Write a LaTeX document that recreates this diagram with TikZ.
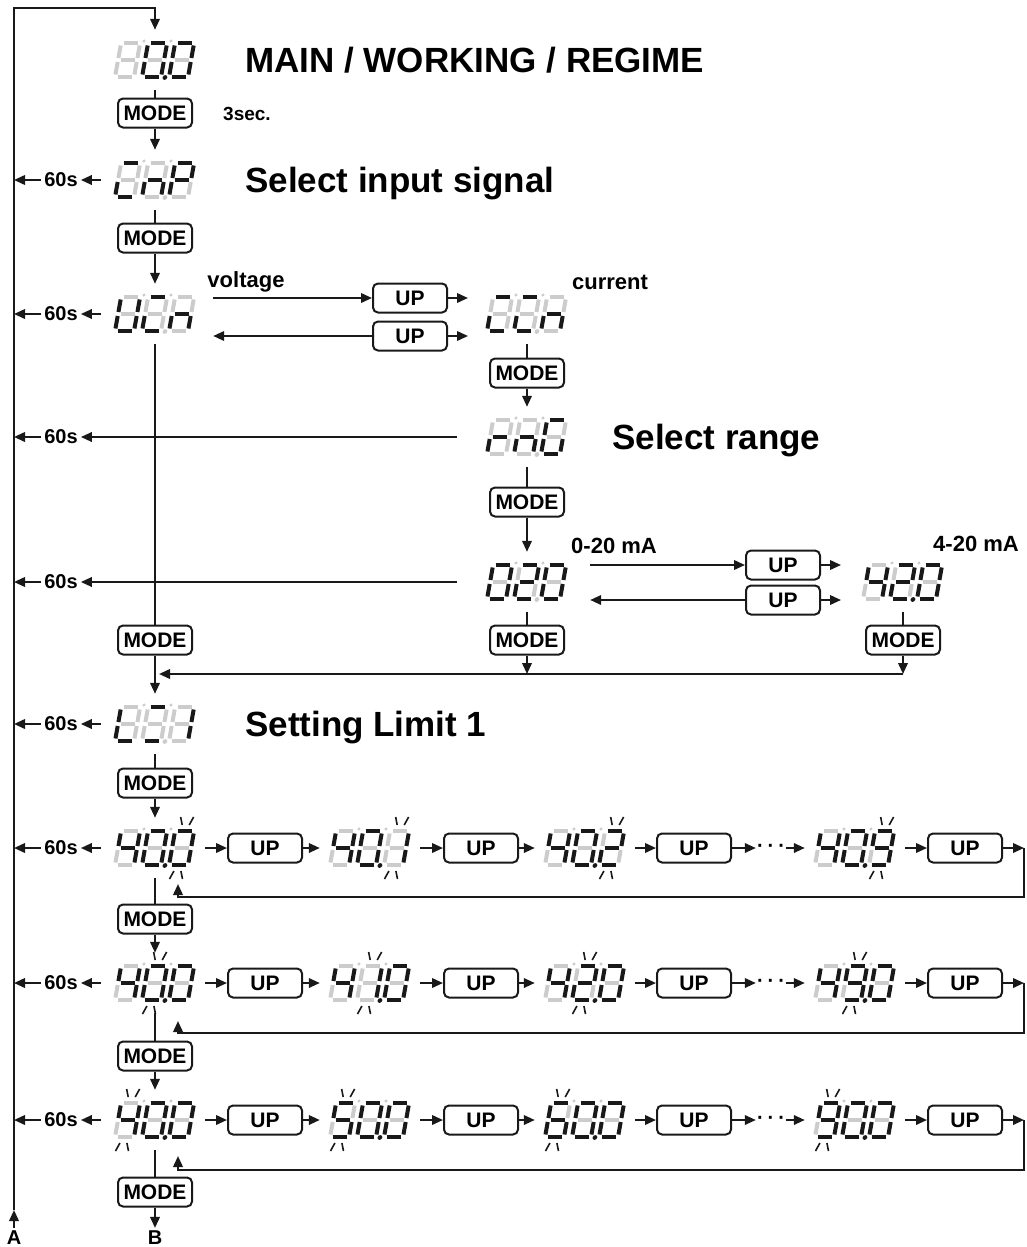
\documentclass[tikz,border=0pt]{standalone}
\usepackage{fontspec}
\setmainfont{Liberation Sans}
\usetikzlibrary{arrows.meta}
\definecolor{c0}{gray}{0.80}
\definecolor{c1}{gray}{0.10}
% segment codes abcdefg (1 = lit/black, 0 = unlit/grey)
\def\SSoff{0000000}
\def\SSzero{1111110}
\def\SSone{0110000}
\def\SStwo{1101101}
\def\SSfour{0110011}
\def\SSfive{1011011}
\def\SSsix{1011111}
\def\SSnine{1111011}
\def\SSc{1001100}
\def\SSn{0010101}
\def\SSp{1100111}
\def\SSu{0111110}
\def\SSr{0000101}
\def\SSg{1011110}
\def\SSla{0001110}
\def\SSlb{1001000}
\def\SSlc{0110000}
\tikzset{
  sg/.style={line width=4pt},
  ln/.style={line width=2.1pt, draw=c1},
  arr/.style={ln, -{Triangle[length=11pt,width=9.5pt]}},
  btn/.style={draw=c1, line width=2pt, rounded corners=5pt, minimum width=74pt,
    minimum height=29pt, inner sep=0pt, font=\fontsize{21}{24}\selectfont\bfseries},
  dispnode/.style={minimum width=100pt, minimum height=60pt, inner sep=0pt},
  lbl/.style={font=\fontsize{22}{26}\selectfont\bfseries, inner sep=0pt, anchor=base},
  sl/.style={font=\fontsize{20}{24}\selectfont\bfseries, inner sep=3pt},
  ttl/.style={font=\fontsize{35}{42}\selectfont\bfseries, anchor=base west, inner sep=0pt},
  blk/.style={line width=1.6pt, draw=c1},
  dotsn/.style={minimum width=30pt, inner sep=0pt, font=\fontsize{20}{20}\selectfont\bfseries},
}
\def\digp#1#2#3#4#5#6#7\relax{%
  \draw[sg,draw=c#1] (2.5,-34) -- (16.5,-34);
  \draw[sg,draw=c#2] (19,-31.5) -- (19,-19);
  \draw[sg,draw=c#3] (19,-15) -- (19,-2.5);
  \draw[sg,draw=c#4] (2.5,0) -- (16.5,0);
  \draw[sg,draw=c#5] (0,-15) -- (0,-2.5);
  \draw[sg,draw=c#6] (0,-31.5) -- (0,-19);
  \draw[sg,draw=c#7] (2.5,-17) -- (16.5,-17);}
\newcommand\dig[4]{%
  \begin{scope}[shift={({#1},{#2})},xslant=0.18]
    \expandafter\digp#3\relax
    \ifnum#4=1
      \draw[blk] (3,-48) -- (6,-40);
      \draw[blk] (16,-48) -- (13,-40);
      \draw[blk] (3,14) -- (6,6);
      \draw[blk] (16,14) -- (13,6);
    \fi
  \end{scope}}
% name, cx, cy, digit1, digit2, digit3, dp colour, blinking digit
\newcommand\disp[8]{%
  \node[dispnode] (#1) at (#2,#3) {};
  \dig{#2-40}{#3+17}{#4}{\ifnum#8=1 1\else0\fi}%
  \dig{#2-13}{#3+17}{#5}{\ifnum#8=2 1\else0\fi}%
  \dig{#2+14}{#3+17}{#6}{\ifnum#8=3 1\else0\fi}%
  \begin{scope}[shift={({#2-13},{#3+17})},xslant=0.18]
    \fill[fill=c#7] (23,0.5) circle (2.4pt);
    \fill[fill=c0] (-4.5,-36) circle (1.7pt);
  \end{scope}
  \begin{scope}[shift={({#2+14},{#3+17})},xslant=0.18]
    \fill[fill=c0] (-4.5,-36) circle (1.7pt);
  \end{scope}}
% row of UP boxes: prefix, y, return y, return tip y
\newcommand\uprow[4]{%
  \node[btn] (#1u1) at (265,#2) {UP};
  \node[btn] (#1u2) at (481,#2) {UP};
  \node[btn] (#1u3) at (694,#2) {UP};
  \node[btn] (#1u4) at (965,#2) {UP};
  \node[dotsn] (#1dt) at (771,#2) {·\hspace{4pt}·\hspace{4pt}·};
  \coordinate (#1r1) at (1024,#2);
  \coordinate (#1r2) at (1024,#3);
  \coordinate (#1r3) at (178,#3);
  \coordinate (#1r4) at (178,#4);
  \draw[arr] (#11.east) -- (#1u1.west);
  \draw[arr] (#1u1.east) -- (#12.west);
  \draw[arr] (#12.east) -- (#1u2.west);
  \draw[arr] (#1u2.east) -- (#13.west);
  \draw[arr] (#13.east) -- (#1u3.west);
  \draw[arr] (#1u3.east) -- (#1dt.west);
  \draw[arr] (#1dt.east) -- (#14.west);
  \draw[arr] (#14.east) -- (#1u4.west);
  \draw[arr] (#1u4.east) -- (#1r1);
  \draw[arr] (#1r1) -- (#1r2) -- (#1r3) -- (#1r4);}
\begin{document}
\begin{tikzpicture}[x=1pt,y=-1pt]
\useasboundingbox (0,0) rectangle (1027,1247);
% displays
\disp{main}{155}{60}{\SSoff}{\SSzero}{\SSzero}{1}{0}
\disp{inp}{155}{180}{\SSc}{\SSn}{\SSp}{0}{0}
\disp{ucn}{155}{314}{\SSu}{\SSc}{\SSn}{0}{0}
\disp{ccn}{527}{314}{\SSc}{\SSc}{\SSn}{0}{0}
\disp{rng}{527}{437}{\SSr}{\SSn}{\SSg}{0}{0}
\disp{d020}{527}{582}{\SSzero}{\SStwo}{\SSzero}{0}{0}
\disp{d420}{903}{582}{\SSfour}{\SStwo}{\SSzero}{1}{0}
\disp{set}{155}{724}{\SSla}{\SSlb}{\SSlc}{0}{0}
\disp{a1}{155}{848}{\SSfour}{\SSzero}{\SSzero}{1}{3}
\disp{a2}{370}{848}{\SSfour}{\SSzero}{\SSone}{1}{3}
\disp{a3}{585}{848}{\SSfour}{\SSzero}{\SStwo}{1}{3}
\disp{a4}{855}{848}{\SSfour}{\SSzero}{\SSnine}{1}{3}
\disp{b1}{155}{983}{\SSfour}{\SSzero}{\SSzero}{1}{2}
\disp{b2}{370}{983}{\SSfour}{\SSone}{\SSzero}{1}{2}
\disp{b3}{585}{983}{\SSfour}{\SStwo}{\SSzero}{1}{2}
\disp{b4}{855}{983}{\SSfour}{\SSnine}{\SSzero}{1}{2}
\disp{c1}{155}{1120}{\SSfour}{\SSzero}{\SSzero}{1}{1}
\disp{c2}{370}{1120}{\SSfive}{\SSzero}{\SSzero}{1}{1}
\disp{c3}{585}{1120}{\SSsix}{\SSzero}{\SSzero}{1}{1}
\disp{c4}{855}{1120}{\SSnine}{\SSzero}{\SSzero}{1}{1}
% titles and labels
\node[ttl] (t1) at (245,73) {MAIN / WORKING / REGIME};
\node[ttl] (t2) at (245,192) {Select input signal};
\node[ttl] (t3) at (612,449) {Select range};
\node[ttl] (t4) at (245,736) {Setting Limit 1};
\node[lbl, font=\fontsize{19}{22}\selectfont\bfseries] (l0) at (247,120) {3sec.};
\node[lbl] (l1) at (246,287) {voltage};
\node[lbl] (l2) at (610,289) {current};
\node[lbl] (l3) at (614,553) {0-20 mA};
\node[lbl] (l4) at (976,551) {4-20 mA};
% MODE buttons
\node[btn] (m1) at (155,113) {MODE};
\node[btn] (m2) at (155,238) {MODE};
\node[btn] (m3) at (155,640) {MODE};
\node[btn] (m4) at (527,373) {MODE};
\node[btn] (m5) at (527,502) {MODE};
\node[btn] (m6) at (527,640) {MODE};
\node[btn] (m7) at (903,640) {MODE};
\node[btn] (m8) at (155,783) {MODE};
\node[btn] (m9) at (155,919) {MODE};
\node[btn] (m10) at (155,1056) {MODE};
\node[btn] (m11) at (155,1192) {MODE};
% UP buttons between voltage/current and ranges
\node[btn] (u1) at (410,298) {UP};
\node[btn] (u2) at (410,336) {UP};
\node[btn] (u3) at (783,565) {UP};
\node[btn] (u4) at (783,600) {UP};
% 60s labels
\node[sl] (s1) at (61,180) {60s};
\node[sl] (s2) at (61,314) {60s};
\node[sl] (s3) at (61,437) {60s};
\node[sl] (s4) at (61,582) {60s};
\node[sl] (s5) at (61,724) {60s};
\node[sl] (s6) at (61,848) {60s};
\node[sl] (s7) at (61,983) {60s};
\node[sl] (s8) at (61,1120) {60s};
% A and B
\node[sl] (A) at (14,1238) {A};
\node[sl] (B) at (155,1238) {B};
\coordinate (Ltop) at (14,8);
\coordinate (Atip) at (14,1210);
\coordinate (J) at (155,674);
% left loop
\draw[arr] (A.north) -- (Atip);
\draw[arr] (Atip) -- (Ltop) -| (main.north);
% main column
\draw[ln] (main.south) -- (m1.north);
\draw[arr] (m1.south) -- (inp.north);
\draw[ln] (inp.south) -- (m2.north);
\draw[arr] (m2.south) -- (ucn.north);
\draw[ln] (ucn.south) -- (m3.north);
\draw[ln] (m3.south) -- (J);
\draw[arr] (J) -- (set.north);
\draw[arr, shorten >=4pt] (m7.south |- J) -- (J);
\draw[arr] (m6.south) -- (m6.south |- J);
\draw[arr] (m7.south) -- (m7.south |- J);
\draw[ln] (ccn.south) -- (m4.north);
\draw[arr] (m4.south) -- (rng.north);
\draw[ln] (rng.south) -- (m5.north);
\draw[arr] (m5.south) -- (d020.north);
\draw[ln] (d020.south) -- (m6.north);
\draw[ln] (d420.south) -- (m7.north);
\draw[ln] (set.south) -- (m8.north);
\draw[arr] (m8.south) -- (a1.north);
\draw[ln] (a1.south) -- (m9.north);
\draw[arr] (m9.south) -- (b1.north);
\draw[ln] (b1.south) -- (m10.north);
\draw[arr] (m10.south) -- (c1.north);
\draw[ln] (c1.south) -- (m11.north);
\draw[arr] (m11.south) -- (B.north);
% voltage / current
\draw[arr, shorten <=8pt] (ucn.east |- u1.west) -- (u1.west);
\draw[arr, shorten >=8pt] (u2.west) -- (ucn.east |- u2.west);
\draw[arr] (u1.east) -- ++(20,0);
\draw[arr] (u2.east) -- ++(20,0);
% ranges
\draw[arr, shorten <=13pt] (d020.east |- u3.west) -- (u3.west);
\draw[arr, shorten >=13pt] (u4.west) -- (d020.east |- u4.west);
\draw[arr] (u3.east) -- ++(20,0);
\draw[arr] (u4.east) -- ++(20,0);
% 60s timeouts
\draw[arr, shorten <=4pt] (inp.west) -- (s1.east);
\draw[arr, shorten <=4pt] (ucn.west) -- (s2.east);
\draw[arr, shorten <=20pt] (rng.west) -- (s3.east);
\draw[arr, shorten <=20pt] (d020.west) -- (s4.east);
\draw[arr, shorten <=4pt] (set.west) -- (s5.east);
\draw[arr, shorten <=4pt] (a1.west) -- (s6.east);
\draw[arr, shorten <=4pt] (b1.west) -- (s7.east);
\draw[arr, shorten <=4pt] (c1.west) -- (s8.east);
\foreach \s in {s1,s2,s3,s4,s5,s6,s7,s8}
  \draw[arr] (\s.west) -- (\s.west -| Ltop);
% digit rows
\uprow{a}{848}{897}{884}
\uprow{b}{983}{1033}{1021}
\uprow{c}{1120}{1170}{1156}
\end{tikzpicture}
\end{document}
